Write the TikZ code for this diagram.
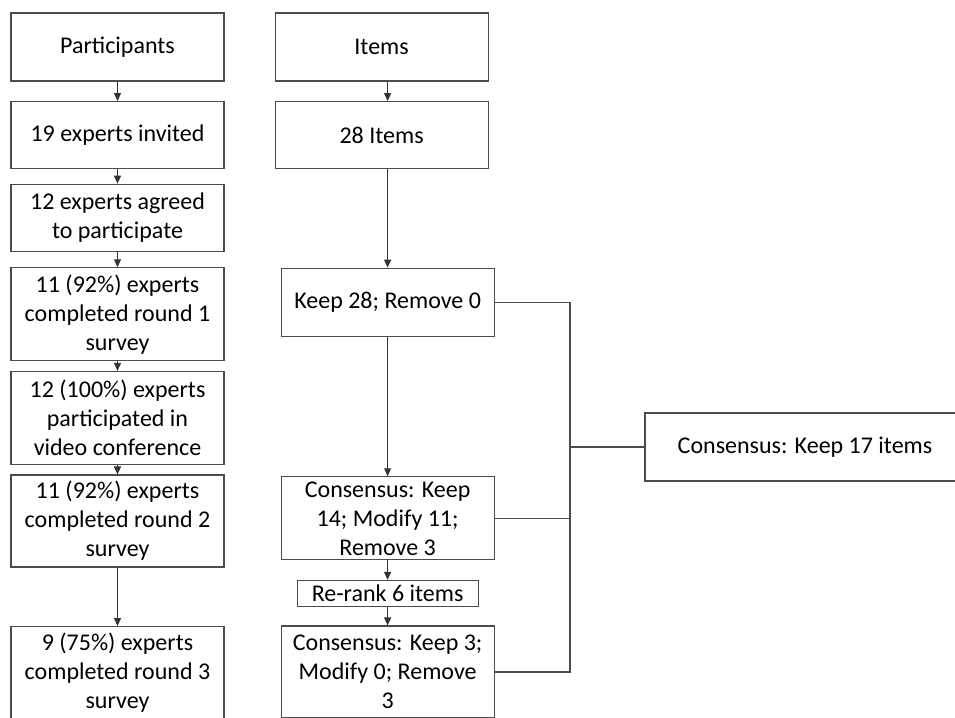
\documentclass[tikz,border=0pt]{standalone}
\usepackage{fontspec}
\setmainfont{Carlito}
\usetikzlibrary{arrows.meta,
                positioning
                }

\begin{document}
\begin{tikzpicture}[x=1pt, y=-1pt,
          node distance = 14.5pt and 50pt,
      box/.style = {draw=black!70, line width=1.1pt, minimum width=213pt,
                    inner sep=0pt, align=center,
                    font=\fontsize{24}{29}\selectfont},
      arr/.style = {draw=black!80, line width=1.1pt,
                    -{Triangle[length=8pt,width=7pt]}},
      lnk/.style = {draw=black!70, line width=1.1pt}
      ]
    \useasboundingbox (0,0) rectangle (955,717);
    \clip (0,0) rectangle (955,717);
    % participants
    \node (p1) [box, minimum height=68pt] at (117.5,47) {Participants};
    \node (p2) [box, minimum height=67pt, below=19.5pt of p1] {19 experts invited};
    \node (p3) [box, minimum height=67pt, below=of p2] {12 experts agreed\\to participate};
    \node (p4) [box, minimum height=93pt, below=15.5pt of p3] {11 (92\%) experts\\completed round 1\\survey};
    \node (p5) [box, minimum height=93pt, below=9.5pt of p4] {12 (100\%) experts\\participated in\\video conference};
    \node (p6) [box, minimum height=92pt, below=9.5pt of p5] {11 (92\%) experts\\completed round 2\\survey};
    \node (p7) [box, minimum height=92pt, below=58.5pt of p6] {9 (75\%) experts\\completed round 3\\survey};
    % items
    \node (i1) [box, minimum height=68pt, right=of p1] {Items};
    \node (i2) [box, minimum height=67pt, below=19.5pt of i1] {28 Items};
    \node (i3) [box, minimum height=68pt, below=98.5pt of i2, xshift=6pt] {Keep 28; Remove 0};
    \node (i4) [box, minimum height=83pt, below=139.5pt of i3] {Consensus: Keep\\14; Modify 11;\\Remove 3};
    \node (i5) [box, minimum width=181pt, minimum height=26pt, below=19.5pt of i4] {Re-rank 6 items};
    \node (i6) [box, minimum height=92pt, below=18.5pt of i5] {Consensus: Keep 3;\\Modify 0; Remove\\3};
    % result
    \node (c) [box, minimum width=320pt, minimum height=68pt] at (805,447) {Consensus: Keep 17 items};
    \coordinate (b) at (570,0);

    \foreach \a/\b in {p1/p2, p2/p3, p3/p4, p4/p5, p5/p6, p6/p7, i4/i5, i5/i6}
        \draw[arr] (\a) -- (\b);
    \draw[arr] (i1.south -| i3) -- (i2.north -| i3);
    \draw[arr] (i2.south -| i3) -- (i3);
    \draw[arr] (i3) -- (i4);

    \draw[lnk] (i3.east) -- (i3.east -| b) -- (i6.east -| b) -- (i6.east);
    \draw[lnk] (i4.east) -- (i4.east -| b);
    \draw[lnk] (c.west -| b) -- (c.west);
\end{tikzpicture}
\end{document}
